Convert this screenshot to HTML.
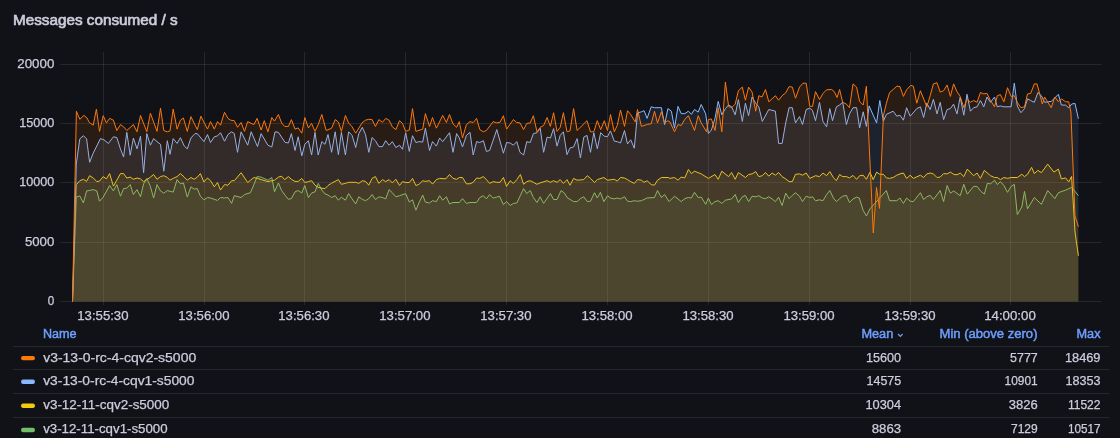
<!DOCTYPE html>
<html><head><meta charset="utf-8"><title>Messages consumed / s</title>
<style>
html,body{margin:0;padding:0;background:#111217;}
body{width:1120px;height:438px;overflow:hidden;font-family:"Liberation Sans",sans-serif;}
svg{display:block;will-change:transform;font-family:"Liberation Sans",sans-serif;}
text{fill:#ccccdc;font-size:12px;stroke:#ccccdc;stroke-width:0.25px;}
.h{fill:#6e9fff;stroke:#6e9fff;stroke-width:0.45px;}
.t{font-size:14px;font-weight:normal;stroke:#ccccdc;stroke-width:0.65px;}
</style></head><body>
<svg width="1120" height="438" viewBox="0 0 1120 438">
<defs><clipPath id="pc"><rect x="61" y="52" width="1040" height="250"/></clipPath></defs>

<text class="t" x="13" y="25.1" textLength="164.6" lengthAdjust="spacingAndGlyphs">Messages consumed / s</text>
<path d="M103.5 52V305 M204.5 52V305 M304.5 52V305 M405.5 52V305 M506.5 52V305 M607.5 52V305 M708.5 52V305 M809.5 52V305 M910.5 52V305 M1010.5 52V305 M60.3 301.5H1101.5 M60.3 242.5H1101.5 M60.3 182.5H1101.5 M60.3 123.5H1101.5 M60.3 64.5H1101.5" stroke="rgba(240,250,255,0.09)" stroke-width="1" fill="none"/>
<g clip-path="url(#pc)"><path d="M72.5 301.5 L76.4 197.1 L79.8 195.9 L83.4 203.0 L86.6 190.9 L89.6 190.4 L93.2 189.6 L96.8 190.9 L99.5 201.2 L103.2 197.1 L109.6 185.5 L113.4 190.9 L116.8 184.6 L120.5 196.2 L123.6 188.6 L126.8 188.2 L130.2 184.6 L133.4 194.5 L137.0 189.6 L140.5 196.8 L143.6 183.8 L146.8 178.4 L150.4 186.4 L153.6 198.0 L157.0 184.6 L160.5 190.9 L163.8 193.2 L167.3 190.5 L173.2 192.1 L177.1 179.6 L180.4 183.8 L183.4 182.9 L187.3 197.1 L190.9 186.8 L194.1 189.1 L197.3 188.6 L200.4 196.2 L203.9 199.8 L207.5 197.5 L210.5 198.0 L217.5 200.4 L220.5 197.5 L224.5 198.0 L228.0 197.5 L231.6 203.4 L234.3 195.7 L241.1 197.5 L244.5 194.5 L250.4 192.7 L253.9 184.6 L257.1 176.6 L261.1 177.1 L267.9 180.2 L271.8 177.5 L274.5 191.8 L278.4 182.9 L281.6 190.5 L285.2 195.4 L288.4 199.3 L291.4 198.6 L295.0 191.8 L298.2 190.5 L301.8 193.0 L304.8 185.5 L308.4 197.5 L311.6 193.0 L315.0 191.8 L318.2 183.4 L321.8 190.0 L325.0 193.9 L328.0 195.0 L331.6 197.5 L335.2 195.7 L338.4 200.2 L341.4 197.1 L345.4 200.2 L348.6 193.6 L352.1 198.9 L355.7 203.9 L358.8 196.8 L362.3 199.3 L365.5 200.7 L368.8 198.6 L372.1 194.5 L375.4 199.5 L378.9 196.8 L382.5 197.5 L385.7 198.9 L389.1 189.6 L392.3 192.7 L395.9 196.8 L399.5 195.7 L405.7 193.6 L409.3 202.1 L412.5 199.8 L415.9 210.2 L419.1 202.5 L422.7 195.0 L425.4 202.1 L429.5 203.0 L432.5 200.7 L436.4 201.6 L439.6 195.7 L442.7 200.2 L446.4 196.8 L449.5 203.9 L453.0 202.5 L459.3 202.5 L462.5 198.6 L466.4 203.4 L470.0 202.5 L476.6 202.5 L479.8 197.5 L483.4 195.7 L486.4 198.9 L489.6 194.5 L493.2 198.0 L496.8 197.1 L499.5 196.2 L503.4 204.6 L506.6 201.6 L510.2 205.5 L513.4 203.4 L516.8 203.0 L520.4 195.4 L523.6 188.6 L526.8 193.6 L530.2 190.5 L533.4 197.5 L537.0 202.5 L540.2 196.8 L543.6 203.4 L550.4 193.6 L553.6 199.5 L557.0 199.5 L561.1 190.5 L564.6 193.2 L567.0 197.5 L573.6 201.6 L577.1 201.6 L580.4 198.6 L583.8 196.8 L587.3 201.6 L590.5 201.2 L594.5 192.7 L597.3 198.0 L600.4 192.3 L603.9 201.6 L607.5 195.7 L610.5 198.0 L614.3 198.9 L617.3 198.0 L620.5 198.9 L624.5 196.8 L627.5 201.2 L630.7 201.6 L634.3 200.7 L637.5 201.2 L641.4 200.7 L647.1 198.0 L654.5 197.5 L657.5 190.5 L661.4 197.5 L664.6 194.5 L669.1 201.6 L674.5 196.2 L678.0 198.9 L681.2 201.6 L684.8 198.6 L688.4 197.5 L691.4 198.0 L694.5 192.3 L698.2 197.5 L701.2 197.1 L705.7 204.3 L708.4 198.0 L711.4 204.6 L715.0 201.6 L718.2 200.7 L721.8 203.4 L725.4 200.2 L731.6 198.9 L735.2 194.5 L738.4 202.5 L742.3 196.8 L745.4 195.4 L748.6 201.6 L752.1 196.2 L755.7 196.8 L758.8 195.7 L762.3 198.0 L765.5 198.6 L768.8 196.8 L772.1 198.9 L775.4 201.6 L778.6 197.1 L782.1 205.5 L785.7 193.2 L789.1 198.6 L792.3 195.4 L795.5 192.7 L799.5 196.2 L802.5 201.6 L806.2 196.2 L809.8 197.5 L812.5 196.8 L815.5 200.7 L819.5 199.8 L823.0 200.7 L826.6 194.5 L829.8 190.5 L833.4 198.0 L836.4 201.6 L839.6 198.6 L842.7 196.2 L846.4 195.4 L849.5 202.5 L853.0 198.9 L856.6 197.1 L859.3 198.0 L863.2 210.5 L866.4 215.9 L870.0 208.8 L886.4 190.5 L889.6 200.7 L896.8 200.7 L900.0 198.0 L903.4 203.4 L906.6 198.0 L910.2 201.2 L913.4 201.6 L920.4 192.7 L923.6 199.5 L926.8 196.8 L930.2 195.4 L933.4 199.5 L940.2 190.5 L943.6 201.6 L947.1 185.5 L950.4 193.2 L953.6 190.9 L960.2 195.7 L963.8 184.3 L967.3 194.1 L973.6 186.4 L977.1 186.4 L980.4 190.9 L984.3 194.1 L987.3 183.4 L990.5 183.8 L994.5 180.2 L997.3 184.6 L1000.4 181.6 L1003.9 185.5 L1007.5 192.3 L1011.1 186.4 L1014.3 184.3 L1017.3 214.6 L1021.8 207.0 L1024.5 191.4 L1027.5 208.8 L1034.3 197.5 L1041.4 204.3 L1047.7 190.5 L1054.8 198.6 L1058.4 192.7 L1065.6 190.1 L1071.6 187.4 L1078.4 195.6 L1078.4 301.5 L72.5 301.5Z" fill="#73BF69" fill-opacity="0.1" stroke="none"/>
<path d="M72.5 301.5 L76.4 197.1" fill="none" stroke="#73BF69" stroke-width="0.6"/>
<path d="M76.4 197.1 L79.8 195.9 L83.4 203.0 L86.6 190.9 L89.6 190.4 L93.2 189.6 L96.8 190.9 L99.5 201.2 L103.2 197.1 L109.6 185.5 L113.4 190.9 L116.8 184.6 L120.5 196.2 L123.6 188.6 L126.8 188.2 L130.2 184.6 L133.4 194.5 L137.0 189.6 L140.5 196.8 L143.6 183.8 L146.8 178.4 L150.4 186.4 L153.6 198.0 L157.0 184.6 L160.5 190.9 L163.8 193.2 L167.3 190.5 L173.2 192.1 L177.1 179.6 L180.4 183.8 L183.4 182.9 L187.3 197.1 L190.9 186.8 L194.1 189.1 L197.3 188.6 L200.4 196.2 L203.9 199.8 L207.5 197.5 L210.5 198.0 L217.5 200.4 L220.5 197.5 L224.5 198.0 L228.0 197.5 L231.6 203.4 L234.3 195.7 L241.1 197.5 L244.5 194.5 L250.4 192.7 L253.9 184.6 L257.1 176.6 L261.1 177.1 L267.9 180.2 L271.8 177.5 L274.5 191.8 L278.4 182.9 L281.6 190.5 L285.2 195.4 L288.4 199.3 L291.4 198.6 L295.0 191.8 L298.2 190.5 L301.8 193.0 L304.8 185.5 L308.4 197.5 L311.6 193.0 L315.0 191.8 L318.2 183.4 L321.8 190.0 L325.0 193.9 L328.0 195.0 L331.6 197.5 L335.2 195.7 L338.4 200.2 L341.4 197.1 L345.4 200.2 L348.6 193.6 L352.1 198.9 L355.7 203.9 L358.8 196.8 L362.3 199.3 L365.5 200.7 L368.8 198.6 L372.1 194.5 L375.4 199.5 L378.9 196.8 L382.5 197.5 L385.7 198.9 L389.1 189.6 L392.3 192.7 L395.9 196.8 L399.5 195.7 L405.7 193.6 L409.3 202.1 L412.5 199.8 L415.9 210.2 L419.1 202.5 L422.7 195.0 L425.4 202.1 L429.5 203.0 L432.5 200.7 L436.4 201.6 L439.6 195.7 L442.7 200.2 L446.4 196.8 L449.5 203.9 L453.0 202.5 L459.3 202.5 L462.5 198.6 L466.4 203.4 L470.0 202.5 L476.6 202.5 L479.8 197.5 L483.4 195.7 L486.4 198.9 L489.6 194.5 L493.2 198.0 L496.8 197.1 L499.5 196.2 L503.4 204.6 L506.6 201.6 L510.2 205.5 L513.4 203.4 L516.8 203.0 L520.4 195.4 L523.6 188.6 L526.8 193.6 L530.2 190.5 L533.4 197.5 L537.0 202.5 L540.2 196.8 L543.6 203.4 L550.4 193.6 L553.6 199.5 L557.0 199.5 L561.1 190.5 L564.6 193.2 L567.0 197.5 L573.6 201.6 L577.1 201.6 L580.4 198.6 L583.8 196.8 L587.3 201.6 L590.5 201.2 L594.5 192.7 L597.3 198.0 L600.4 192.3 L603.9 201.6 L607.5 195.7 L610.5 198.0 L614.3 198.9 L617.3 198.0 L620.5 198.9 L624.5 196.8 L627.5 201.2 L630.7 201.6 L634.3 200.7 L637.5 201.2 L641.4 200.7 L647.1 198.0 L654.5 197.5 L657.5 190.5 L661.4 197.5 L664.6 194.5 L669.1 201.6 L674.5 196.2 L678.0 198.9 L681.2 201.6 L684.8 198.6 L688.4 197.5 L691.4 198.0 L694.5 192.3 L698.2 197.5 L701.2 197.1 L705.7 204.3 L708.4 198.0 L711.4 204.6 L715.0 201.6 L718.2 200.7 L721.8 203.4 L725.4 200.2 L731.6 198.9 L735.2 194.5 L738.4 202.5 L742.3 196.8 L745.4 195.4 L748.6 201.6 L752.1 196.2 L755.7 196.8 L758.8 195.7 L762.3 198.0 L765.5 198.6 L768.8 196.8 L772.1 198.9 L775.4 201.6 L778.6 197.1 L782.1 205.5 L785.7 193.2 L789.1 198.6 L792.3 195.4 L795.5 192.7 L799.5 196.2 L802.5 201.6 L806.2 196.2 L809.8 197.5 L812.5 196.8 L815.5 200.7 L819.5 199.8 L823.0 200.7 L826.6 194.5 L829.8 190.5 L833.4 198.0 L836.4 201.6 L839.6 198.6 L842.7 196.2 L846.4 195.4 L849.5 202.5 L853.0 198.9 L856.6 197.1 L859.3 198.0 L863.2 210.5 L866.4 215.9 L870.0 208.8 L886.4 190.5 L889.6 200.7 L896.8 200.7 L900.0 198.0 L903.4 203.4 L906.6 198.0 L910.2 201.2 L913.4 201.6 L920.4 192.7 L923.6 199.5 L926.8 196.8 L930.2 195.4 L933.4 199.5 L940.2 190.5 L943.6 201.6 L947.1 185.5 L950.4 193.2 L953.6 190.9 L960.2 195.7 L963.8 184.3 L967.3 194.1 L973.6 186.4 L977.1 186.4 L980.4 190.9 L984.3 194.1 L987.3 183.4 L990.5 183.8 L994.5 180.2 L997.3 184.6 L1000.4 181.6 L1003.9 185.5 L1007.5 192.3 L1011.1 186.4 L1014.3 184.3 L1017.3 214.6 L1021.8 207.0 L1024.5 191.4 L1027.5 208.8 L1034.3 197.5 L1041.4 204.3 L1047.7 190.5 L1054.8 198.6 L1058.4 192.7 L1065.6 190.1 L1071.6 187.4 L1078.4 195.6" fill="none" stroke="#73BF69" stroke-width="1" stroke-linejoin="round"/>
<path d="M72.5 301.5 L76.4 184.6 L79.8 180.7 L83.4 179.3 L86.6 181.4 L89.6 175.7 L93.2 177.9 L96.8 181.6 L99.5 181.1 L103.2 176.6 L106.4 178.9 L109.6 173.6 L113.4 186.1 L116.8 180.2 L120.5 173.6 L123.6 173.6 L126.8 178.0 L130.2 177.1 L133.4 179.3 L137.0 178.0 L140.5 178.9 L143.6 181.6 L146.8 179.6 L150.4 177.1 L153.6 174.5 L157.0 179.3 L160.5 176.6 L163.8 175.7 L167.3 177.5 L170.0 180.2 L173.2 178.4 L177.1 176.6 L180.4 173.6 L184.3 177.1 L187.3 180.2 L190.9 177.5 L194.1 179.3 L197.3 177.1 L200.4 173.6 L203.9 182.0 L207.5 178.0 L210.5 180.7 L214.3 186.8 L217.5 182.5 L220.5 190.0 L224.5 184.6 L228.0 185.2 L231.6 180.7 L234.3 180.7 L241.1 172.7 L247.7 182.5 L253.9 177.5 L257.5 178.4 L261.1 179.6 L267.9 181.6 L270.0 181.1 L274.5 180.2 L278.4 177.1 L281.6 176.2 L284.6 179.6 L288.4 176.6 L291.4 179.3 L295.0 181.4 L298.2 181.4 L301.8 178.4 L304.8 182.5 L308.4 181.6 L311.6 180.7 L315.0 185.2 L318.2 187.3 L321.8 188.2 L325.0 188.6 L328.0 185.5 L331.6 183.2 L338.4 179.6 L341.4 184.3 L345.4 183.4 L348.6 182.3 L355.7 182.3 L358.8 183.4 L362.3 180.7 L365.5 181.4 L368.8 185.2 L372.1 178.4 L375.4 176.6 L378.9 183.4 L382.5 179.6 L385.7 181.6 L389.1 179.6 L392.3 182.9 L395.9 179.3 L399.5 185.5 L402.5 181.6 L405.7 182.5 L409.3 182.5 L412.5 178.4 L415.9 185.5 L419.1 184.3 L422.7 180.7 L425.4 181.4 L429.5 180.7 L432.5 184.1 L436.4 179.6 L439.6 178.4 L445.9 178.8 L449.5 174.5 L453.0 178.4 L456.6 179.3 L459.3 177.5 L462.5 177.5 L466.4 183.8 L470.0 183.8 L473.2 182.3 L476.6 178.0 L479.8 178.4 L483.4 176.6 L486.4 179.6 L489.6 183.4 L493.2 181.6 L496.8 182.3 L500.0 182.3 L503.4 177.5 L506.6 186.4 L510.2 180.7 L513.4 183.4 L516.8 179.6 L520.4 174.5 L523.6 184.3 L526.8 181.6 L530.2 180.7 L533.4 182.3 L537.0 184.3 L540.2 182.9 L547.1 180.7 L550.4 182.3 L553.6 180.7 L557.0 182.3 L560.2 179.6 L563.4 183.4 L567.0 179.6 L570.0 185.2 L573.6 178.4 L577.1 180.2 L583.8 179.6 L587.3 175.7 L590.5 178.4 L594.5 182.5 L597.3 179.6 L603.9 177.5 L607.5 180.2 L614.3 179.3 L617.3 181.1 L620.5 177.5 L624.5 178.0 L627.5 179.6 L630.7 181.6 L634.3 183.4 L637.5 179.6 L641.4 180.2 L644.1 182.3 L647.1 180.7 L651.2 184.6 L654.5 185.2 L657.5 180.2 L661.4 177.5 L668.2 177.5 L670.0 178.4 L674.5 177.5 L678.0 180.2 L681.2 177.1 L684.8 177.9 L688.4 169.5 L691.4 173.6 L694.5 171.2 L701.2 173.9 L708.4 178.4 L715.0 174.5 L718.2 179.3 L721.8 171.2 L728.6 176.6 L731.6 172.5 L735.2 179.3 L738.4 172.5 L745.4 177.5 L748.6 174.5 L752.1 173.9 L755.7 171.6 L758.8 176.6 L762.3 175.7 L765.5 172.5 L768.8 176.2 L772.1 173.0 L775.4 175.2 L778.6 172.5 L782.1 176.6 L785.7 178.9 L789.1 181.6 L792.3 181.6 L795.5 174.3 L799.5 173.9 L802.5 175.2 L806.2 173.0 L809.8 178.4 L815.5 175.7 L819.5 176.6 L823.0 173.0 L826.6 175.7 L829.8 171.6 L833.4 177.5 L836.4 180.7 L839.6 174.5 L842.7 176.6 L846.4 176.6 L849.5 177.9 L853.0 175.4 L856.6 179.3 L859.6 175.7 L863.2 175.2 L866.4 179.3 L870.0 172.2 L873.2 179.6 L876.6 172.1 L879.8 174.3 L883.4 174.3 L886.4 177.9 L889.6 178.4 L893.2 177.5 L896.8 175.2 L900.0 173.9 L903.4 173.0 L906.6 178.4 L910.2 175.2 L913.4 178.4 L920.4 175.2 L923.6 177.5 L926.8 173.9 L930.2 173.0 L933.4 173.9 L937.0 177.5 L940.2 177.1 L943.6 173.6 L947.1 173.9 L950.4 172.1 L953.6 174.3 L957.0 174.8 L960.2 173.0 L963.8 176.6 L967.3 169.1 L973.6 175.7 L977.1 173.0 L980.4 178.4 L984.3 170.4 L990.5 175.7 L994.5 177.5 L997.3 177.5 L1000.4 179.6 L1003.9 177.5 L1007.5 178.4 L1011.1 177.5 L1017.3 177.5 L1021.8 174.3 L1024.5 176.6 L1027.5 174.3 L1031.6 167.3 L1034.3 173.6 L1037.9 170.4 L1041.4 172.7 L1047.7 164.1 L1053.9 172.1 L1058.4 169.1 L1061.4 178.9 L1065.6 177.9 L1068.7 181.9 L1071.6 176.4 L1075.0 232.0 L1078.4 255.8 L1078.4 301.5 L72.5 301.5Z" fill="#F2CC0C" fill-opacity="0.1" stroke="none"/>
<path d="M72.5 301.5 L76.4 184.6" fill="none" stroke="#F2CC0C" stroke-width="0.6"/>
<path d="M76.4 184.6 L79.8 180.7 L83.4 179.3 L86.6 181.4 L89.6 175.7 L93.2 177.9 L96.8 181.6 L99.5 181.1 L103.2 176.6 L106.4 178.9 L109.6 173.6 L113.4 186.1 L116.8 180.2 L120.5 173.6 L123.6 173.6 L126.8 178.0 L130.2 177.1 L133.4 179.3 L137.0 178.0 L140.5 178.9 L143.6 181.6 L146.8 179.6 L150.4 177.1 L153.6 174.5 L157.0 179.3 L160.5 176.6 L163.8 175.7 L167.3 177.5 L170.0 180.2 L173.2 178.4 L177.1 176.6 L180.4 173.6 L184.3 177.1 L187.3 180.2 L190.9 177.5 L194.1 179.3 L197.3 177.1 L200.4 173.6 L203.9 182.0 L207.5 178.0 L210.5 180.7 L214.3 186.8 L217.5 182.5 L220.5 190.0 L224.5 184.6 L228.0 185.2 L231.6 180.7 L234.3 180.7 L241.1 172.7 L247.7 182.5 L253.9 177.5 L257.5 178.4 L261.1 179.6 L267.9 181.6 L270.0 181.1 L274.5 180.2 L278.4 177.1 L281.6 176.2 L284.6 179.6 L288.4 176.6 L291.4 179.3 L295.0 181.4 L298.2 181.4 L301.8 178.4 L304.8 182.5 L308.4 181.6 L311.6 180.7 L315.0 185.2 L318.2 187.3 L321.8 188.2 L325.0 188.6 L328.0 185.5 L331.6 183.2 L338.4 179.6 L341.4 184.3 L345.4 183.4 L348.6 182.3 L355.7 182.3 L358.8 183.4 L362.3 180.7 L365.5 181.4 L368.8 185.2 L372.1 178.4 L375.4 176.6 L378.9 183.4 L382.5 179.6 L385.7 181.6 L389.1 179.6 L392.3 182.9 L395.9 179.3 L399.5 185.5 L402.5 181.6 L405.7 182.5 L409.3 182.5 L412.5 178.4 L415.9 185.5 L419.1 184.3 L422.7 180.7 L425.4 181.4 L429.5 180.7 L432.5 184.1 L436.4 179.6 L439.6 178.4 L445.9 178.8 L449.5 174.5 L453.0 178.4 L456.6 179.3 L459.3 177.5 L462.5 177.5 L466.4 183.8 L470.0 183.8 L473.2 182.3 L476.6 178.0 L479.8 178.4 L483.4 176.6 L486.4 179.6 L489.6 183.4 L493.2 181.6 L496.8 182.3 L500.0 182.3 L503.4 177.5 L506.6 186.4 L510.2 180.7 L513.4 183.4 L516.8 179.6 L520.4 174.5 L523.6 184.3 L526.8 181.6 L530.2 180.7 L533.4 182.3 L537.0 184.3 L540.2 182.9 L547.1 180.7 L550.4 182.3 L553.6 180.7 L557.0 182.3 L560.2 179.6 L563.4 183.4 L567.0 179.6 L570.0 185.2 L573.6 178.4 L577.1 180.2 L583.8 179.6 L587.3 175.7 L590.5 178.4 L594.5 182.5 L597.3 179.6 L603.9 177.5 L607.5 180.2 L614.3 179.3 L617.3 181.1 L620.5 177.5 L624.5 178.0 L627.5 179.6 L630.7 181.6 L634.3 183.4 L637.5 179.6 L641.4 180.2 L644.1 182.3 L647.1 180.7 L651.2 184.6 L654.5 185.2 L657.5 180.2 L661.4 177.5 L668.2 177.5 L670.0 178.4 L674.5 177.5 L678.0 180.2 L681.2 177.1 L684.8 177.9 L688.4 169.5 L691.4 173.6 L694.5 171.2 L701.2 173.9 L708.4 178.4 L715.0 174.5 L718.2 179.3 L721.8 171.2 L728.6 176.6 L731.6 172.5 L735.2 179.3 L738.4 172.5 L745.4 177.5 L748.6 174.5 L752.1 173.9 L755.7 171.6 L758.8 176.6 L762.3 175.7 L765.5 172.5 L768.8 176.2 L772.1 173.0 L775.4 175.2 L778.6 172.5 L782.1 176.6 L785.7 178.9 L789.1 181.6 L792.3 181.6 L795.5 174.3 L799.5 173.9 L802.5 175.2 L806.2 173.0 L809.8 178.4 L815.5 175.7 L819.5 176.6 L823.0 173.0 L826.6 175.7 L829.8 171.6 L833.4 177.5 L836.4 180.7 L839.6 174.5 L842.7 176.6 L846.4 176.6 L849.5 177.9 L853.0 175.4 L856.6 179.3 L859.6 175.7 L863.2 175.2 L866.4 179.3 L870.0 172.2 L873.2 179.6 L876.6 172.1 L879.8 174.3 L883.4 174.3 L886.4 177.9 L889.6 178.4 L893.2 177.5 L896.8 175.2 L900.0 173.9 L903.4 173.0 L906.6 178.4 L910.2 175.2 L913.4 178.4 L920.4 175.2 L923.6 177.5 L926.8 173.9 L930.2 173.0 L933.4 173.9 L937.0 177.5 L940.2 177.1 L943.6 173.6 L947.1 173.9 L950.4 172.1 L953.6 174.3 L957.0 174.8 L960.2 173.0 L963.8 176.6 L967.3 169.1 L973.6 175.7 L977.1 173.0 L980.4 178.4 L984.3 170.4 L990.5 175.7 L994.5 177.5 L997.3 177.5 L1000.4 179.6 L1003.9 177.5 L1007.5 178.4 L1011.1 177.5 L1017.3 177.5 L1021.8 174.3 L1024.5 176.6 L1027.5 174.3 L1031.6 167.3 L1034.3 173.6 L1037.9 170.4 L1041.4 172.7 L1047.7 164.1 L1053.9 172.1 L1058.4 169.1 L1061.4 178.9 L1065.6 177.9 L1068.7 181.9 L1071.6 176.4 L1075.0 232.0 L1078.4 255.8" fill="none" stroke="#F2CC0C" stroke-width="1" stroke-linejoin="round"/>
<path d="M72.5 301.5 L76.4 163.0 L79.8 138.9 L83.4 135.7 L86.6 138.9 L89.6 162.3 L93.2 153.2 L100.4 138.6 L103.9 139.8 L108.4 143.4 L113.4 136.8 L116.8 137.5 L120.4 148.8 L123.6 157.0 L126.8 132.3 L130.2 155.2 L133.4 138.0 L137.0 148.8 L140.5 136.2 L143.6 172.7 L146.8 133.6 L150.4 145.2 L153.6 138.6 L157.0 141.6 L160.5 144.3 L163.8 171.2 L167.3 140.7 L170.0 154.3 L173.2 138.6 L177.1 143.4 L180.4 137.7 L184.3 146.1 L187.3 148.8 L190.9 138.0 L195.0 133.6 L197.3 133.6 L203.9 141.6 L207.5 134.5 L210.5 142.5 L214.3 136.8 L217.5 135.9 L220.5 132.7 L224.5 141.2 L228.0 134.5 L231.6 131.8 L234.3 133.6 L237.5 152.3 L241.1 131.8 L247.7 145.2 L251.2 131.8 L257.5 146.6 L261.1 133.6 L267.9 145.2 L271.8 147.0 L275.0 131.8 L278.4 132.3 L281.6 137.1 L285.2 142.5 L288.4 142.9 L291.4 133.6 L295.0 150.5 L298.2 136.8 L301.8 155.9 L304.8 144.3 L308.4 140.7 L311.6 155.0 L315.0 132.3 L318.2 155.0 L321.8 141.6 L325.0 144.3 L328.0 134.5 L331.6 152.3 L335.2 131.8 L338.4 154.6 L341.4 132.3 L345.4 155.0 L348.6 131.8 L352.1 135.4 L355.7 147.5 L358.8 133.6 L362.3 127.3 L365.5 134.5 L368.8 152.3 L372.1 137.5 L375.4 140.7 L378.9 146.6 L382.5 146.6 L385.7 140.7 L389.1 145.2 L392.3 141.6 L395.9 147.5 L399.5 145.2 L402.5 149.3 L405.7 132.7 L409.3 151.4 L412.5 135.7 L415.9 142.5 L419.1 141.6 L422.7 142.1 L425.4 128.2 L429.5 150.5 L432.5 141.6 L436.4 146.1 L439.6 138.0 L442.7 141.6 L449.5 132.7 L453.0 152.3 L456.6 133.6 L459.3 138.0 L462.5 147.0 L466.4 135.4 L470.0 132.3 L473.2 155.0 L476.6 141.6 L479.8 142.5 L483.4 140.7 L486.4 151.4 L489.6 150.5 L496.8 129.6 L503.4 153.2 L506.6 142.5 L510.2 143.0 L513.4 145.2 L516.8 141.6 L520.0 152.3 L523.6 155.0 L526.8 141.6 L530.2 142.5 L533.4 133.6 L537.0 132.7 L540.2 128.2 L543.6 152.3 L547.1 137.1 L550.4 138.0 L553.6 128.6 L557.0 146.1 L560.2 135.4 L563.4 131.8 L567.0 154.6 L570.0 147.9 L573.6 147.0 L577.1 138.6 L580.4 157.9 L583.8 137.1 L587.0 135.4 L590.5 152.3 L593.8 132.7 L597.3 148.8 L600.7 132.7 L604.3 136.2 L607.5 136.6 L610.5 130.9 L614.3 141.2 L617.3 141.6 L620.5 143.0 L624.5 130.5 L627.5 143.9 L630.7 139.8 L634.3 148.2 L637.5 113.0 L641.4 111.8 L644.1 110.7 L647.1 118.4 L651.2 106.8 L654.5 107.7 L661.4 107.7 L664.6 124.6 L667.9 108.6 L671.4 111.2 L674.5 128.2 L678.0 106.4 L681.2 113.6 L684.8 113.6 L688.4 111.2 L691.4 114.3 L694.5 109.5 L698.2 112.1 L701.2 104.5 L705.7 113.9 L708.4 133.6 L711.4 130.0 L715.0 118.4 L718.2 101.4 L721.8 114.8 L725.4 108.6 L728.6 105.0 L731.6 106.8 L735.2 114.8 L738.4 99.6 L742.3 121.4 L745.4 103.2 L748.6 115.7 L752.1 97.0 L755.7 103.2 L758.8 106.8 L762.3 121.4 L768.8 109.5 L775.4 111.2 L778.6 143.4 L782.1 143.4 L785.7 122.9 L789.1 107.7 L792.3 107.7 L795.5 122.9 L799.5 116.6 L802.5 124.6 L806.2 109.5 L809.8 108.2 L812.5 110.4 L815.5 120.7 L819.5 102.3 L823.0 121.6 L826.6 126.8 L829.8 108.6 L832.5 120.7 L836.4 106.8 L839.6 105.0 L842.7 102.3 L846.4 124.6 L849.5 113.9 L853.0 107.7 L856.6 107.7 L859.6 127.9 L863.2 111.8 L866.4 126.4 L869.1 105.9 L876.6 122.9 L879.8 100.5 L883.4 121.1 L886.4 114.3 L893.2 111.2 L896.8 116.2 L900.0 115.2 L903.4 120.2 L906.6 107.7 L910.2 116.2 L916.8 108.6 L920.4 106.8 L923.6 117.5 L926.8 103.2 L930.2 109.5 L933.4 99.3 L937.0 113.9 L940.2 102.3 L943.6 119.6 L947.1 109.5 L950.4 108.6 L953.6 104.1 L957.0 113.9 L960.2 97.0 L963.8 115.2 L967.0 94.3 L970.4 111.2 L973.6 107.7 L977.1 106.8 L980.4 100.5 L983.8 106.8 L987.0 97.0 L990.5 102.3 L994.5 97.0 L997.3 106.8 L1000.4 105.9 L1003.9 106.8 L1011.1 106.8 L1014.3 83.2 L1017.3 105.9 L1020.9 112.7 L1024.5 108.6 L1027.5 98.8 L1030.7 100.5 L1034.3 102.3 L1037.9 92.5 L1041.4 95.7 L1044.6 102.3 L1051.2 101.4 L1054.8 97.9 L1058.4 94.3 L1061.4 105.0 L1065.6 105.1 L1068.7 107.8 L1071.7 104.0 L1075.0 103.4 L1078.4 118.8 L1078.4 301.5 L72.5 301.5Z" fill="#8AB8FF" fill-opacity="0.1" stroke="none"/>
<path d="M72.5 301.5 L76.4 163.0" fill="none" stroke="#8AB8FF" stroke-width="0.9"/>
<path d="M76.4 163.0 L79.8 138.9 L83.4 135.7 L86.6 138.9 L89.6 162.3 L93.2 153.2 L100.4 138.6 L103.9 139.8 L108.4 143.4 L113.4 136.8 L116.8 137.5 L120.4 148.8 L123.6 157.0 L126.8 132.3 L130.2 155.2 L133.4 138.0 L137.0 148.8 L140.5 136.2 L143.6 172.7 L146.8 133.6 L150.4 145.2 L153.6 138.6 L157.0 141.6 L160.5 144.3 L163.8 171.2 L167.3 140.7 L170.0 154.3 L173.2 138.6 L177.1 143.4 L180.4 137.7 L184.3 146.1 L187.3 148.8 L190.9 138.0 L195.0 133.6 L197.3 133.6 L203.9 141.6 L207.5 134.5 L210.5 142.5 L214.3 136.8 L217.5 135.9 L220.5 132.7 L224.5 141.2 L228.0 134.5 L231.6 131.8 L234.3 133.6 L237.5 152.3 L241.1 131.8 L247.7 145.2 L251.2 131.8 L257.5 146.6 L261.1 133.6 L267.9 145.2 L271.8 147.0 L275.0 131.8 L278.4 132.3 L281.6 137.1 L285.2 142.5 L288.4 142.9 L291.4 133.6 L295.0 150.5 L298.2 136.8 L301.8 155.9 L304.8 144.3 L308.4 140.7 L311.6 155.0 L315.0 132.3 L318.2 155.0 L321.8 141.6 L325.0 144.3 L328.0 134.5 L331.6 152.3 L335.2 131.8 L338.4 154.6 L341.4 132.3 L345.4 155.0 L348.6 131.8 L352.1 135.4 L355.7 147.5 L358.8 133.6 L362.3 127.3 L365.5 134.5 L368.8 152.3 L372.1 137.5 L375.4 140.7 L378.9 146.6 L382.5 146.6 L385.7 140.7 L389.1 145.2 L392.3 141.6 L395.9 147.5 L399.5 145.2 L402.5 149.3 L405.7 132.7 L409.3 151.4 L412.5 135.7 L415.9 142.5 L419.1 141.6 L422.7 142.1 L425.4 128.2 L429.5 150.5 L432.5 141.6 L436.4 146.1 L439.6 138.0 L442.7 141.6 L449.5 132.7 L453.0 152.3 L456.6 133.6 L459.3 138.0 L462.5 147.0 L466.4 135.4 L470.0 132.3 L473.2 155.0 L476.6 141.6 L479.8 142.5 L483.4 140.7 L486.4 151.4 L489.6 150.5 L496.8 129.6 L503.4 153.2 L506.6 142.5 L510.2 143.0 L513.4 145.2 L516.8 141.6 L520.0 152.3 L523.6 155.0 L526.8 141.6 L530.2 142.5 L533.4 133.6 L537.0 132.7 L540.2 128.2 L543.6 152.3 L547.1 137.1 L550.4 138.0 L553.6 128.6 L557.0 146.1 L560.2 135.4 L563.4 131.8 L567.0 154.6 L570.0 147.9 L573.6 147.0 L577.1 138.6 L580.4 157.9 L583.8 137.1 L587.0 135.4 L590.5 152.3 L593.8 132.7 L597.3 148.8 L600.7 132.7 L604.3 136.2 L607.5 136.6 L610.5 130.9 L614.3 141.2 L617.3 141.6 L620.5 143.0 L624.5 130.5 L627.5 143.9 L630.7 139.8 L634.3 148.2 L637.5 113.0 L641.4 111.8 L644.1 110.7 L647.1 118.4 L651.2 106.8 L654.5 107.7 L661.4 107.7 L664.6 124.6 L667.9 108.6 L671.4 111.2 L674.5 128.2 L678.0 106.4 L681.2 113.6 L684.8 113.6 L688.4 111.2 L691.4 114.3 L694.5 109.5 L698.2 112.1 L701.2 104.5 L705.7 113.9 L708.4 133.6 L711.4 130.0 L715.0 118.4 L718.2 101.4 L721.8 114.8 L725.4 108.6 L728.6 105.0 L731.6 106.8 L735.2 114.8 L738.4 99.6 L742.3 121.4 L745.4 103.2 L748.6 115.7 L752.1 97.0 L755.7 103.2 L758.8 106.8 L762.3 121.4 L768.8 109.5 L775.4 111.2 L778.6 143.4 L782.1 143.4 L785.7 122.9 L789.1 107.7 L792.3 107.7 L795.5 122.9 L799.5 116.6 L802.5 124.6 L806.2 109.5 L809.8 108.2 L812.5 110.4 L815.5 120.7 L819.5 102.3 L823.0 121.6 L826.6 126.8 L829.8 108.6 L832.5 120.7 L836.4 106.8 L839.6 105.0 L842.7 102.3 L846.4 124.6 L849.5 113.9 L853.0 107.7 L856.6 107.7 L859.6 127.9 L863.2 111.8 L866.4 126.4 L869.1 105.9 L876.6 122.9 L879.8 100.5 L883.4 121.1 L886.4 114.3 L893.2 111.2 L896.8 116.2 L900.0 115.2 L903.4 120.2 L906.6 107.7 L910.2 116.2 L916.8 108.6 L920.4 106.8 L923.6 117.5 L926.8 103.2 L930.2 109.5 L933.4 99.3 L937.0 113.9 L940.2 102.3 L943.6 119.6 L947.1 109.5 L950.4 108.6 L953.6 104.1 L957.0 113.9 L960.2 97.0 L963.8 115.2 L967.0 94.3 L970.4 111.2 L973.6 107.7 L977.1 106.8 L980.4 100.5 L983.8 106.8 L987.0 97.0 L990.5 102.3 L994.5 97.0 L997.3 106.8 L1000.4 105.9 L1003.9 106.8 L1011.1 106.8 L1014.3 83.2 L1017.3 105.9 L1020.9 112.7 L1024.5 108.6 L1027.5 98.8 L1030.7 100.5 L1034.3 102.3 L1037.9 92.5 L1041.4 95.7 L1044.6 102.3 L1051.2 101.4 L1054.8 97.9 L1058.4 94.3 L1061.4 105.0 L1065.6 105.1 L1068.7 107.8 L1071.7 104.0 L1075.0 103.4 L1078.4 118.8" fill="none" stroke="#8AB8FF" stroke-width="1" stroke-linejoin="round"/>
<path d="M72.5 301.5 L76.4 111.2 L79.8 119.3 L83.9 115.4 L87.0 118.0 L89.3 122.5 L93.2 125.2 L96.4 109.1 L99.5 131.4 L103.2 115.7 L106.4 122.9 L109.6 118.4 L113.4 120.2 L116.8 130.5 L120.5 124.6 L123.6 126.8 L126.8 130.5 L133.4 124.6 L137.0 131.8 L140.5 115.4 L146.8 131.8 L150.4 113.2 L157.0 131.4 L160.5 108.2 L163.8 130.5 L167.3 131.8 L170.0 130.9 L173.2 109.1 L177.1 129.1 L180.4 120.2 L183.4 118.0 L187.3 131.4 L190.9 116.6 L197.3 129.6 L200.9 116.2 L207.5 129.1 L210.5 121.6 L214.3 129.1 L217.5 121.6 L220.5 125.2 L224.5 112.3 L228.0 118.4 L230.7 120.2 L234.3 120.7 L237.5 127.3 L241.1 122.5 L244.5 131.4 L247.7 121.6 L253.9 124.6 L257.1 118.4 L261.1 130.0 L264.3 120.7 L267.9 131.8 L271.8 117.5 L274.5 121.1 L278.4 114.5 L281.6 122.9 L284.6 126.4 L288.4 126.4 L291.4 119.6 L295.0 129.1 L298.2 127.9 L301.8 133.2 L304.8 117.5 L308.4 127.9 L311.6 123.4 L315.0 131.4 L318.2 124.6 L321.8 114.5 L326.2 130.5 L331.6 128.2 L335.2 119.6 L338.4 122.0 L341.4 131.4 L345.4 115.4 L348.6 122.9 L352.1 126.8 L355.7 133.2 L362.0 122.9 L365.5 120.2 L368.8 119.3 L372.1 119.6 L375.4 126.4 L378.9 119.6 L382.5 122.3 L385.7 118.4 L389.1 120.2 L392.3 126.8 L395.9 129.6 L399.5 120.7 L402.5 123.4 L405.7 131.4 L409.3 130.0 L412.5 108.6 L415.9 131.4 L422.7 129.1 L425.4 113.6 L429.5 126.4 L432.5 117.5 L436.4 128.2 L442.7 115.4 L446.4 122.5 L449.5 114.5 L453.0 123.8 L456.6 127.3 L459.3 121.6 L462.5 138.0 L466.4 124.6 L470.0 121.6 L473.2 122.5 L476.6 118.4 L479.8 129.6 L483.4 131.8 L486.4 130.5 L493.2 121.6 L496.8 122.9 L500.0 122.3 L503.4 115.7 L506.6 129.1 L513.4 119.6 L516.8 122.5 L520.0 122.9 L523.6 129.6 L526.8 123.4 L530.2 122.9 L533.4 115.7 L537.0 131.8 L540.2 127.3 L543.6 125.5 L547.1 117.5 L550.4 126.4 L553.6 112.7 L557.0 131.4 L560.2 127.3 L563.4 112.7 L567.0 131.8 L570.0 130.9 L573.6 108.6 L577.1 130.5 L587.0 120.7 L590.5 131.8 L593.8 131.8 L597.3 120.7 L600.7 129.6 L604.3 120.7 L607.5 130.5 L610.5 114.5 L614.3 131.8 L617.3 125.2 L620.5 110.0 L624.5 126.4 L627.5 110.7 L630.7 114.5 L635.2 122.0 L637.5 109.5 L641.4 126.4 L647.7 124.3 L651.2 123.8 L654.5 111.2 L657.5 122.9 L661.4 111.8 L664.6 122.9 L667.9 120.7 L670.0 122.0 L674.5 131.8 L678.0 124.6 L681.2 125.5 L684.8 119.3 L688.4 115.7 L694.5 130.5 L698.2 115.7 L701.2 122.9 L706.6 131.8 L708.4 119.6 L711.4 118.9 L715.0 130.5 L718.2 107.7 L721.8 131.8 L725.4 82.1 L728.6 106.4 L731.6 107.7 L735.2 104.1 L738.4 90.7 L742.3 87.1 L745.4 100.2 L748.6 87.1 L752.1 92.1 L755.7 111.2 L758.8 95.7 L762.0 97.0 L765.5 89.5 L768.8 101.8 L775.4 95.7 L778.6 100.2 L782.1 95.7 L785.7 92.9 L789.1 86.6 L792.3 87.1 L795.5 98.2 L799.5 87.1 L803.0 83.2 L806.2 83.2 L809.8 106.4 L812.5 106.4 L815.5 91.6 L819.5 99.6 L823.0 93.4 L826.6 89.8 L831.6 89.5 L834.3 91.6 L837.0 97.5 L839.6 89.5 L842.7 102.3 L846.4 104.1 L849.5 107.7 L853.0 83.9 L856.6 87.1 L859.6 101.4 L863.2 105.0 L866.4 86.2 L873.3 233.0 L876.5 187.4 L879.5 208.4 L883.4 115.7 L886.4 103.2 L889.6 92.5 L893.2 89.5 L896.8 86.2 L900.0 86.6 L903.4 96.4 L906.6 89.8 L910.7 85.4 L913.4 86.2 L916.8 103.2 L920.4 90.7 L926.8 106.8 L930.2 95.7 L933.4 83.9 L937.0 82.7 L940.2 92.1 L943.6 90.7 L947.1 85.0 L950.4 96.4 L953.6 83.9 L957.0 91.6 L960.2 96.4 L963.8 107.7 L967.0 98.8 L970.4 102.3 L973.6 100.5 L977.1 102.3 L980.4 92.5 L983.8 93.9 L987.0 93.4 L990.5 100.5 L994.5 106.8 L997.3 95.7 L1000.4 94.6 L1003.9 101.8 L1007.5 87.7 L1011.1 96.4 L1014.3 95.7 L1017.3 102.3 L1020.9 107.7 L1024.5 106.8 L1027.5 93.9 L1030.7 93.4 L1034.3 83.9 L1037.0 83.9 L1039.6 93.4 L1042.3 104.1 L1044.6 97.0 L1051.2 107.7 L1054.8 97.0 L1058.4 101.8 L1061.4 98.8 L1065.6 101.8 L1068.7 101.8 L1070.9 112.0 L1075.0 216.0 L1078.4 226.7 L1078.4 301.5 L72.5 301.5Z" fill="#FF780A" fill-opacity="0.1" stroke="none"/>
<path d="M72.5 301.5 L76.4 111.2" fill="none" stroke="#FF780A" stroke-width="1"/>
<path d="M76.4 111.2 L79.8 119.3 L83.9 115.4 L87.0 118.0 L89.3 122.5 L93.2 125.2 L96.4 109.1 L99.5 131.4 L103.2 115.7 L106.4 122.9 L109.6 118.4 L113.4 120.2 L116.8 130.5 L120.5 124.6 L123.6 126.8 L126.8 130.5 L133.4 124.6 L137.0 131.8 L140.5 115.4 L146.8 131.8 L150.4 113.2 L157.0 131.4 L160.5 108.2 L163.8 130.5 L167.3 131.8 L170.0 130.9 L173.2 109.1 L177.1 129.1 L180.4 120.2 L183.4 118.0 L187.3 131.4 L190.9 116.6 L197.3 129.6 L200.9 116.2 L207.5 129.1 L210.5 121.6 L214.3 129.1 L217.5 121.6 L220.5 125.2 L224.5 112.3 L228.0 118.4 L230.7 120.2 L234.3 120.7 L237.5 127.3 L241.1 122.5 L244.5 131.4 L247.7 121.6 L253.9 124.6 L257.1 118.4 L261.1 130.0 L264.3 120.7 L267.9 131.8 L271.8 117.5 L274.5 121.1 L278.4 114.5 L281.6 122.9 L284.6 126.4 L288.4 126.4 L291.4 119.6 L295.0 129.1 L298.2 127.9 L301.8 133.2 L304.8 117.5 L308.4 127.9 L311.6 123.4 L315.0 131.4 L318.2 124.6 L321.8 114.5 L326.2 130.5 L331.6 128.2 L335.2 119.6 L338.4 122.0 L341.4 131.4 L345.4 115.4 L348.6 122.9 L352.1 126.8 L355.7 133.2 L362.0 122.9 L365.5 120.2 L368.8 119.3 L372.1 119.6 L375.4 126.4 L378.9 119.6 L382.5 122.3 L385.7 118.4 L389.1 120.2 L392.3 126.8 L395.9 129.6 L399.5 120.7 L402.5 123.4 L405.7 131.4 L409.3 130.0 L412.5 108.6 L415.9 131.4 L422.7 129.1 L425.4 113.6 L429.5 126.4 L432.5 117.5 L436.4 128.2 L442.7 115.4 L446.4 122.5 L449.5 114.5 L453.0 123.8 L456.6 127.3 L459.3 121.6 L462.5 138.0 L466.4 124.6 L470.0 121.6 L473.2 122.5 L476.6 118.4 L479.8 129.6 L483.4 131.8 L486.4 130.5 L493.2 121.6 L496.8 122.9 L500.0 122.3 L503.4 115.7 L506.6 129.1 L513.4 119.6 L516.8 122.5 L520.0 122.9 L523.6 129.6 L526.8 123.4 L530.2 122.9 L533.4 115.7 L537.0 131.8 L540.2 127.3 L543.6 125.5 L547.1 117.5 L550.4 126.4 L553.6 112.7 L557.0 131.4 L560.2 127.3 L563.4 112.7 L567.0 131.8 L570.0 130.9 L573.6 108.6 L577.1 130.5 L587.0 120.7 L590.5 131.8 L593.8 131.8 L597.3 120.7 L600.7 129.6 L604.3 120.7 L607.5 130.5 L610.5 114.5 L614.3 131.8 L617.3 125.2 L620.5 110.0 L624.5 126.4 L627.5 110.7 L630.7 114.5 L635.2 122.0 L637.5 109.5 L641.4 126.4 L647.7 124.3 L651.2 123.8 L654.5 111.2 L657.5 122.9 L661.4 111.8 L664.6 122.9 L667.9 120.7 L670.0 122.0 L674.5 131.8 L678.0 124.6 L681.2 125.5 L684.8 119.3 L688.4 115.7 L694.5 130.5 L698.2 115.7 L701.2 122.9 L706.6 131.8 L708.4 119.6 L711.4 118.9 L715.0 130.5 L718.2 107.7 L721.8 131.8 L725.4 82.1 L728.6 106.4 L731.6 107.7 L735.2 104.1 L738.4 90.7 L742.3 87.1 L745.4 100.2 L748.6 87.1 L752.1 92.1 L755.7 111.2 L758.8 95.7 L762.0 97.0 L765.5 89.5 L768.8 101.8 L775.4 95.7 L778.6 100.2 L782.1 95.7 L785.7 92.9 L789.1 86.6 L792.3 87.1 L795.5 98.2 L799.5 87.1 L803.0 83.2 L806.2 83.2 L809.8 106.4 L812.5 106.4 L815.5 91.6 L819.5 99.6 L823.0 93.4 L826.6 89.8 L831.6 89.5 L834.3 91.6 L837.0 97.5 L839.6 89.5 L842.7 102.3 L846.4 104.1 L849.5 107.7 L853.0 83.9 L856.6 87.1 L859.6 101.4 L863.2 105.0 L866.4 86.2 L873.3 233.0 L876.5 187.4 L879.5 208.4 L883.4 115.7 L886.4 103.2 L889.6 92.5 L893.2 89.5 L896.8 86.2 L900.0 86.6 L903.4 96.4 L906.6 89.8 L910.7 85.4 L913.4 86.2 L916.8 103.2 L920.4 90.7 L926.8 106.8 L930.2 95.7 L933.4 83.9 L937.0 82.7 L940.2 92.1 L943.6 90.7 L947.1 85.0 L950.4 96.4 L953.6 83.9 L957.0 91.6 L960.2 96.4 L963.8 107.7 L967.0 98.8 L970.4 102.3 L973.6 100.5 L977.1 102.3 L980.4 92.5 L983.8 93.9 L987.0 93.4 L990.5 100.5 L994.5 106.8 L997.3 95.7 L1000.4 94.6 L1003.9 101.8 L1007.5 87.7 L1011.1 96.4 L1014.3 95.7 L1017.3 102.3 L1020.9 107.7 L1024.5 106.8 L1027.5 93.9 L1030.7 93.4 L1034.3 83.9 L1037.0 83.9 L1039.6 93.4 L1042.3 104.1 L1044.6 97.0 L1051.2 107.7 L1054.8 97.0 L1058.4 101.8 L1061.4 98.8 L1065.6 101.8 L1068.7 101.8 L1070.9 112.0 L1075.0 216.0 L1078.4 226.7" fill="none" stroke="#FF780A" stroke-width="1" stroke-linejoin="round"/></g>
<text x="17.3" y="68.1" textLength="37" lengthAdjust="spacingAndGlyphs">20000</text>
<text x="19.3" y="127.1" textLength="35" lengthAdjust="spacingAndGlyphs">15000</text>
<text x="19.3" y="186.1" textLength="35" lengthAdjust="spacingAndGlyphs">10000</text>
<text x="24.9" y="246.1" textLength="29.4" lengthAdjust="spacingAndGlyphs">5000</text>
<text x="47.8" y="305.1" textLength="6.5" lengthAdjust="spacingAndGlyphs">0</text>
<text x="77.3" y="320.2" textLength="51.2" lengthAdjust="spacingAndGlyphs">13:55:30</text>
<text x="178.3" y="320.2" textLength="51.2" lengthAdjust="spacingAndGlyphs">13:56:00</text>
<text x="278.3" y="320.2" textLength="51.2" lengthAdjust="spacingAndGlyphs">13:56:30</text>
<text x="379.3" y="320.2" textLength="51.2" lengthAdjust="spacingAndGlyphs">13:57:00</text>
<text x="480.3" y="320.2" textLength="51.2" lengthAdjust="spacingAndGlyphs">13:57:30</text>
<text x="581.4" y="320.2" textLength="51.2" lengthAdjust="spacingAndGlyphs">13:58:00</text>
<text x="682.4" y="320.2" textLength="51.2" lengthAdjust="spacingAndGlyphs">13:58:30</text>
<text x="783.4" y="320.2" textLength="51.2" lengthAdjust="spacingAndGlyphs">13:59:00</text>
<text x="884.4" y="320.2" textLength="51.2" lengthAdjust="spacingAndGlyphs">13:59:30</text>
<text x="984.2" y="320.2" textLength="51.6" lengthAdjust="spacingAndGlyphs">14:00:00</text>
<text class="h" x="43" y="338" textLength="33.5" lengthAdjust="spacingAndGlyphs">Name</text>
<text class="h" x="861.4" y="338" textLength="31.9" lengthAdjust="spacingAndGlyphs">Mean</text>
<path d="M898 334l2.3 2.3l2.3-2.3" stroke="#6e9fff" stroke-width="1.2" fill="none"/>
<text class="h" x="939.5" y="338" textLength="98" lengthAdjust="spacingAndGlyphs">Min (above zero)</text>
<text class="h" x="1076.5" y="338" textLength="24" lengthAdjust="spacingAndGlyphs">Max</text>
<rect x="21" y="355.9" width="14" height="4.4" rx="2.2" fill="#FF780A"/>
<text x="43.2" y="362.0" textLength="153.0" lengthAdjust="spacingAndGlyphs">v3-13-0-rc-4-cqv2-s5000</text>
<text x="865.9" y="362.0" textLength="35.2" lengthAdjust="spacingAndGlyphs">15600</text>
<text x="1010.1" y="362.0" textLength="27.6" lengthAdjust="spacingAndGlyphs">5777</text>
<text x="1064.9" y="362.0" textLength="35.6" lengthAdjust="spacingAndGlyphs">18469</text>
<rect x="21" y="379.6" width="14" height="4.4" rx="2.2" fill="#8AB8FF"/>
<text x="43.2" y="385.4" textLength="151.3" lengthAdjust="spacingAndGlyphs">v3-13-0-rc-4-cqv1-s5000</text>
<text x="866.6" y="385.4" textLength="34.5" lengthAdjust="spacingAndGlyphs">14575</text>
<text x="1004.6" y="385.4" textLength="33.1" lengthAdjust="spacingAndGlyphs">10901</text>
<text x="1065.4" y="385.4" textLength="35.1" lengthAdjust="spacingAndGlyphs">18353</text>
<rect x="21" y="403.5" width="14" height="4.4" rx="2.2" fill="#F2CC0C"/>
<text x="43.2" y="409.0" textLength="126.1" lengthAdjust="spacingAndGlyphs">v3-12-11-cqv2-s5000</text>
<text x="865.4" y="409.0" textLength="35.7" lengthAdjust="spacingAndGlyphs">10304</text>
<text x="1008.8" y="409.0" textLength="28.9" lengthAdjust="spacingAndGlyphs">3826</text>
<text x="1067.9" y="409.0" textLength="32.6" lengthAdjust="spacingAndGlyphs">11522</text>
<rect x="21" y="427.8" width="14" height="4.4" rx="2.2" fill="#73BF69"/>
<text x="43.2" y="433.0" textLength="124.4" lengthAdjust="spacingAndGlyphs">v3-12-11-cqv1-s5000</text>
<text x="871.7" y="433.0" textLength="29.4" lengthAdjust="spacingAndGlyphs">8863</text>
<text x="1011.0" y="433.0" textLength="26.7" lengthAdjust="spacingAndGlyphs">7129</text>
<text x="1067.9" y="433.0" textLength="32.6" lengthAdjust="spacingAndGlyphs">10517</text>
<path d="M13 346.5H1109 M13 369.5H1109 M13 393.5H1109 M13 417.5H1109" stroke="rgba(204,204,220,0.12)" stroke-width="1" fill="none"/>
</svg></body></html>
